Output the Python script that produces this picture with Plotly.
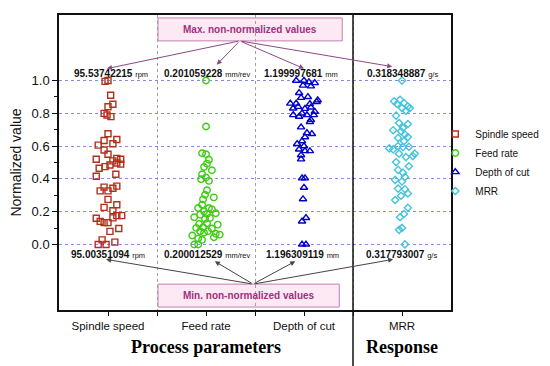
import plotly.graph_objects as go

categories = ["Spindle speed", "Feed rate", "Depth of cut", "MRR"]

# horizontal jitter (category units) and normalized values
spindle_jitter = [-0.03, 0.0, 0.027, 0.05, 0.0, -0.04, -0.01, 0.03,
                  0.0, -0.04, 0.09, 0.05, -0.10, -0.04, 0.0,
                  -0.12, 0.09, 0.13, 0.05, 0.02, -0.03, -0.09, 0.09, 0.13, 0.08, -0.12,
                  -0.04, -0.08, 0.0, 0.05, 0.09, 0.0, -0.04, 0.09, 0.05,
                  -0.12, -0.08, -0.04, 0.0, 0.05, 0.09, 0.14, 0.02, 0.11, -0.06, -0.10, -0.02, 0.07]
spindle_vals = [0.995, 1.0, 0.91, 0.855, 0.84, 0.80, 0.79, 0.78,
                0.675, 0.634, 0.64, 0.614, 0.606, 0.576, 0.55,
                0.52, 0.525, 0.52, 0.51, 0.485, 0.475, 0.465, 0.497, 0.49, 0.428, 0.416,
                0.35, 0.327, 0.327, 0.343, 0.356, 0.275, 0.226, 0.242, 0.206,
                0.16, 0.141, 0.133, 0.133, 0.162, 0.176, 0.176, 0.08, 0.097, 0.028, 0.0, 0.0, 0.014]

feed_jitter = [0.0, 0.0, -0.04, 0.0, 0.03, 0.01, -0.02, 0.06, -0.04, 0.0, -0.05, 0.03,
               0.01, -0.01, 0.08, -0.03, -0.04, -0.08, 0.03, 0.06, -0.02, 0.01, -0.06, -0.12,
               0.10, -0.01, 0.04, -0.07, 0.01, 0.12, -0.10, -0.03, 0.06, -0.06, 0.02, -0.02,
               -0.14, -0.08, -0.04, 0.08, 0.10, 0.14, -0.12, -0.08]
feed_vals = [1.0, 0.72, 0.556, 0.55, 0.517, 0.493, 0.473, 0.453, 0.428, 0.408, 0.398, 0.388,
             0.331, 0.303, 0.287, 0.275, 0.242, 0.222, 0.222, 0.214, 0.202, 0.186, 0.182, 0.166,
             0.19, 0.156, 0.162, 0.125, 0.129, 0.121, 0.101, 0.105, 0.097, 0.081, 0.081, 0.071,
             0.055, 0.036, 0.028, 0.044, 0.065, 0.06, 0.0, 0.0]

depth_jitter = [-0.08, 0.0, 0.05, 0.11, -0.01, 0.07, -0.05, -0.03, 0.14, 0.04,
                -0.14, -0.08, 0.06, 0.13, -0.11, -0.06, 0.01, 0.07, -0.11, -0.05, -0.02, 0.03,
                0.10, 0.11, 0.07, 0.06, -0.03, 0.03, 0.08, 0.01, -0.07, -0.02, 0.0, -0.05,
                0.01, 0.06, -0.03, -0.03, -0.02, 0.01, 0.0, -0.01, 0.02, -0.02, -0.02, 0.02]
depth_vals = [1.0, 1.0, 0.99, 0.985, 0.97, 0.965, 0.925, 0.895, 0.88, 0.90,
              0.86, 0.86, 0.857, 0.87, 0.83, 0.84, 0.828, 0.836, 0.79, 0.78, 0.80, 0.79,
              0.79, 0.81, 0.76, 0.747, 0.715, 0.68, 0.675, 0.655, 0.614, 0.63, 0.60, 0.58,
              0.57, 0.57, 0.545, 0.52, 0.404, 0.404, 0.347, 0.277, 0.162, 0.141, 0.0, 0.0]

mrr_jitter = [0.0, -0.08, -0.02, -0.05, 0.02, 0.06, 0.0, 0.08, 0.04, -0.06, -0.03, 0.06,
              0.01, -0.09, -0.01, 0.03, -0.04, 0.06, 0.02, -0.13, -0.09, -0.04, 0.01, 0.07,
              0.13, -0.03, 0.04, 0.11, -0.06, 0.07, -0.04, 0.01, 0.03, -0.07, 0.0, -0.04,
              0.03, 0.06, -0.01, -0.07, 0.06, 0.02, -0.02, -0.03, 0.0, 0.03]
mrr_vals = [1.0, 0.873, 0.883, 0.857, 0.863, 0.842, 0.832, 0.832, 0.816, 0.786, 0.741, 0.735,
            0.711, 0.697, 0.691, 0.671, 0.65, 0.655, 0.63, 0.586, 0.58, 0.60, 0.594, 0.596,
            0.554, 0.554, 0.533, 0.539, 0.503, 0.477, 0.455, 0.438, 0.412, 0.394, 0.384, 0.341,
            0.337, 0.311, 0.297, 0.271, 0.224, 0.186, 0.166, 0.089, 0.101, 0.0]

max_values = ["95.53742215", "0.201059228", "1.199997681", "0.318348887"]
min_values = ["95.00351094", "0.200012529", "1.196309119", "0.317793007"]
units = ["rpm", "mm/rev", "mm", "g/s"]
y_ticks = [0.0, 0.2, 0.4, 0.6, 0.8, 1.0]

series = [
    ("Spindle speed", spindle_jitter, spindle_vals, "square-open", "#b0301c", 6),
    ("Feed rate", feed_jitter, feed_vals, "circle-open", "#3ccc10", 6.5),
    ("Depth of cut", depth_jitter, depth_vals, "triangle-up-open", "#0000cc", 6.5),
    ("MRR", mrr_jitter, mrr_vals, "diamond-open", "#44c4dc", 5.5),
]

fig = go.Figure()
for i, (name, jit, vals, sym, col, sz) in enumerate(series):
    fig.add_trace(go.Scatter(
        x=[i + j for j in jit], y=vals, mode="markers", name=name,
        marker=dict(symbol=sym, size=sz, color=col, line=dict(color=col, width=1.4)),
    ))

annotations = []
# value labels
max_x = [0.03, 1.01, 1.97, 3.0]
min_x = [0.0, 1.01, 1.98, 2.99]
for i in range(4):
    annotations.append(dict(
        x=max_x[i], y=1.042, xref="x", yref="y", showarrow=False,
        xanchor="center", yanchor="middle",
        text=f"<b>{max_values[i]}</b> <span style='font-size:7.5px'>{units[i]}</span>",
        font=dict(family="Arial", size=10, color="#111")))
    annotations.append(dict(
        x=min_x[i], y=-0.06, xref="x", yref="y", showarrow=False,
        xanchor="center", yanchor="middle",
        text=f"<b>{min_values[i]}</b> <span style='font-size:7.5px'>{units[i]}</span>",
        font=dict(family="Arial", size=10, color="#111")))

# arrows from boxes to labels
max_tail = (1.345, 1.242)
max_heads = [(-0.01, 1.073), (1.11, 1.097), (2.0, 1.073), (2.9, 1.085)]
for hx, hy in max_heads:
    annotations.append(dict(x=hx, y=hy, ax=max_tail[0], ay=max_tail[1], xref="x", yref="y",
                            axref="x", ayref="y", text="", showarrow=True, arrowhead=2,
                            arrowsize=1, arrowwidth=1, arrowcolor="#8a4a80"))
min_tail = (1.48, -0.242)
min_heads = [(-0.02, -0.091), (1.09, -0.103), (1.91, -0.103), (2.91, -0.091)]
for hx, hy in min_heads:
    annotations.append(dict(x=hx, y=hy, ax=min_tail[0], ay=min_tail[1], xref="x", yref="y",
                            axref="x", ayref="y", text="", showarrow=True, arrowhead=2,
                            arrowsize=1, arrowwidth=1, arrowcolor="#444"))

annotations.append(dict(x=1.45, y=1.312, xref="x", yref="y", showarrow=False,
                        xanchor="center", yanchor="middle",
                        text="<b>Max. non-normalized values</b>",
                        font=dict(family="Arial", size=10, color="#a0307f")))
annotations.append(dict(x=1.435, y=-0.312, xref="x", yref="y", showarrow=False,
                        xanchor="center", yanchor="middle",
                        text="<b>Min. non-normalized values</b>",
                        font=dict(family="Arial", size=10, color="#a0307f")))

annotations.append(dict(x=0.375, y=-0.125, xref="paper", yref="paper", showarrow=False,
                        xanchor="center", yanchor="middle",
                        text="<b>Process parameters</b>",
                        font=dict(family="Liberation Serif", size=18, color="#000")))
annotations.append(dict(x=0.875, y=-0.125, xref="paper", yref="paper", showarrow=False,
                        xanchor="center", yanchor="middle",
                        text="<b>Response</b>",
                        font=dict(family="Liberation Serif", size=18, color="#000")))

shapes = [
    dict(type="rect", xref="x", yref="y", x0=0.51, x1=2.39, y0=1.242, y1=1.382,
         fillcolor="#fce9f4", line=dict(color="#c47fb4", width=1), layer="below"),
    dict(type="rect", xref="x", yref="y", x0=0.51, x1=2.36, y0=-0.382, y1=-0.242,
         fillcolor="#fce9f4", line=dict(color="#c47fb4", width=1), layer="below"),
    dict(type="line", xref="paper", yref="paper", x0=0.75, x1=0.75, y0=-0.2, y1=1,
         line=dict(color="#111", width=1.5)),
]

fig.update_layout(
    width=550, height=366,
    margin=dict(l=43, r=107, t=5, b=64),
    paper_bgcolor="white", plot_bgcolor="white",
    font=dict(family="Arial", color="#111"),
    showlegend=True,
    legend=dict(x=0.96, y=0.5, xanchor="left", yanchor="middle",
                font=dict(family="Arial", size=10, color="#111"),
                bgcolor="rgba(0,0,0,0)", tracegroupgap=0),
    annotations=annotations,
    shapes=shapes,
    xaxis=dict(range=[-0.5, 3.5], tickvals=[0, 1, 2, 3], ticktext=categories,
               ticks="outside", ticklen=4, tickcolor="#111", showgrid=False, zeroline=False,
               showline=True, linecolor="#111", linewidth=1.5, mirror=True,
               tickfont=dict(family="Arial", size=11.5, color="#111"),
               minor=dict(tickvals=[0.5, 1.5, 2.5], ticks="outside", ticklen=4, tickcolor="#111",
                          showgrid=True, gridcolor="#a0a0a0", griddash="dot", gridwidth=1)),
    yaxis=dict(range=[-0.4, 1.4], tickvals=y_ticks, tickformat=".1f",
               ticks="outside", ticklen=5, tickcolor="#111",
               showgrid=True, gridcolor="#8a8ae0", griddash="dot", gridwidth=1, zeroline=False,
               showline=True, linecolor="#111", linewidth=1.5, mirror=True,
               tickfont=dict(family="Arial", size=13, color="#111"),
               title=dict(text="Normalized value", font=dict(family="Arial", size=14, color="#111"),
                          standoff=9),
               minor=dict(tickvals=[0.1, 0.3, 0.5, 0.7, 0.9], ticks="outside", ticklen=3,
                          tickcolor="#111")),
)

fig.write_html("out.html")
